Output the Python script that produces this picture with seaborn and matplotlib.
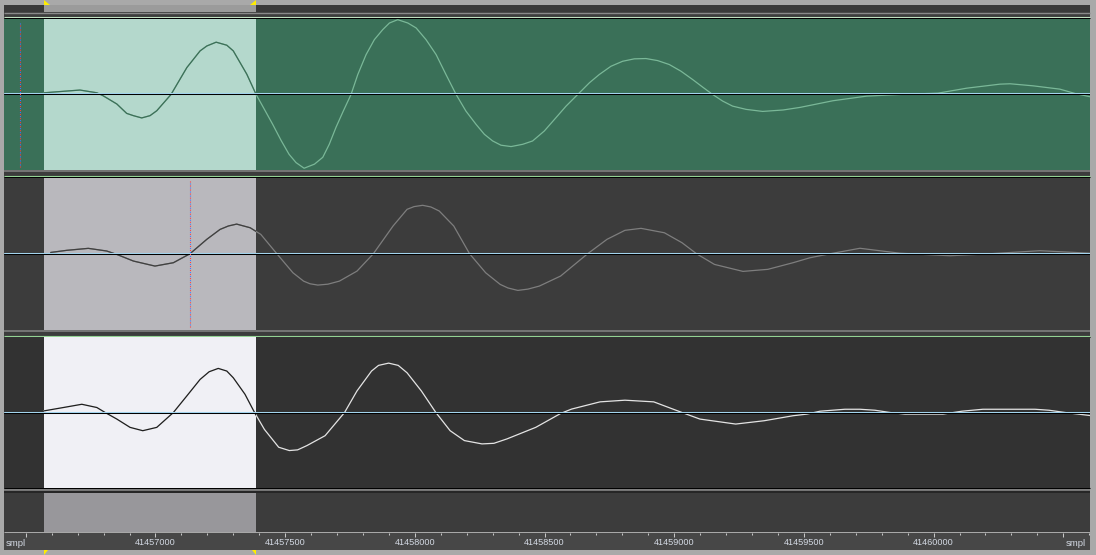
import numpy as np
import pandas as pd
import matplotlib
matplotlib.use("Agg")
import matplotlib.pyplot as plt
from matplotlib.patches import Rectangle, Polygon
import seaborn as sns

# sample positions (smpl) and amplitudes (% of full scale)
ch1_smpl = [41456571, 41456658, 41456709, 41456774, 41456798, 41456851, 41456889, 41456915,
            41456947, 41456979, 41457005, 41457060, 41457121, 41457172, 41457198, 41457234,
            41457275, 41457300, 41457352, 41457388, 41457420, 41457452, 41457484, 41457515,
            41457542, 41457573, 41457613, 41457645, 41457670, 41457696, 41457724, 41457754,
            41457780, 41457812, 41457844, 41457876, 41457902, 41457934, 41457973, 41458005,
            41458043, 41458082, 41458120, 41458159, 41458197, 41458236, 41458268, 41458300,
            41458332, 41458371, 41458416, 41458454, 41458499, 41458544, 41458583, 41458628,
            41458673, 41458711, 41458756, 41458801, 41458846, 41458891, 41458936, 41458981,
            41459026, 41459071, 41459110, 41459148, 41459187, 41459225, 41459277, 41459341,
            41459420, 41459485, 41459612, 41459742, 41459870, 41460017, 41460128, 41460256,
            41460295, 41460383, 41460487, 41460545, 41460603]
ch1_amp = [2.2, 4.5, 5.8, 2.2, -1.7, -12.6, -25, -28,
           -31, -28, -21.5, 0, 35.5, 57.5, 64, 69,
           65, 57.5, 26.8, 0, -19.7, -39.5, -60.5, -79,
           -90, -97.4, -92, -83, -65.8, -43.4, -22, 0,
           26.3, 52.6, 72.4, 85.5, 94.3, 98.7, 94.3, 87.8,
           72.4, 52.6, 26.3, 0, -22, -39.5, -52.6, -61.4,
           -67, -68.8, -65.8, -61.4, -48.3, -30.7, -15.4, 0,
           15.4, 26.3, 37.2, 43.8, 47, 47.4, 44.7, 39.5,
           30.7, 19.7, 9.6, 0, -8.8, -15.4, -19.7, -22.4,
           -20.5, -17.1, -8.3, -2.2, 0, 1.7, 8.3, 13.6,
           14.1, 11.4, 7, 1.3, -3]

ch2_smpl = [41456596, 41456658, 41456741, 41456812, 41456851, 41456915, 41456998, 41457069,
            41457133, 41457198, 41457249, 41457281, 41457313, 41457365, 41457406, 41457468,
            41457530, 41457571, 41457596, 41457626, 41457665, 41457709, 41457777, 41457840,
            41457916, 41457970, 41457997, 41458030, 41458062, 41458094, 41458150, 41458211,
            41458273, 41458329, 41458359, 41458397, 41458436, 41458480, 41458562, 41458666,
            41458741, 41458810, 41458872, 41458962, 41459030, 41459086, 41459155, 41459265,
            41459361, 41459458, 41459523, 41459601, 41459716, 41459870, 41460063, 41460217,
            41460410, 41460603]
ch2_amp = [1.7, 4.5, 7.1, 3.6, -0.9, -9.6, -16.2, -11.8,
           0, 19, 32, 36.5, 39, 34.2, 25.5, 0,
           -25, -36, -39.5, -41.2, -40, -36, -22.8, 0,
           36.5, 58.4, 62, 63.7, 61.5, 56.2, 36.5, 0,
           -25, -40.3, -45, -48.2, -46.5, -42.5, -29.3, 0,
           19, 30.8, 33.4, 27.6, 14.5, 0, -14, -23.2,
           -20.5, -11.8, -5.3, 0, 7.2, 0.7, -2.6, 0,
           4, 0.7]

ch3_smpl = [41456571, 41456645, 41456716, 41456774, 41456806, 41456851, 41456902, 41456951,
            41457005, 41457069, 41457121, 41457172, 41457207, 41457242, 41457275, 41457300,
            41457345, 41457382, 41457420, 41457475, 41457516, 41457548, 41457584, 41457654,
            41457729, 41457777, 41457833, 41457860, 41457899, 41457936, 41457970, 41458025,
            41458081, 41458136, 41458191, 41458259, 41458305, 41458355, 41458466, 41458562,
            41458604, 41458714, 41458810, 41458921, 41459030, 41459099, 41459237, 41459347,
            41459458, 41459512, 41459562, 41459658, 41459716, 41459774, 41459832, 41459890,
            41460036, 41460109, 41460190, 41460391, 41460445, 41460507, 41460557, 41460603]
ch3_amp = [2.2, 6.6, 10.9, 6.6, 0, -8.7, -19.7, -24.1,
           -19.7, 0, 22, 43.8, 54, 58.4, 54.9, 46,
           24.2, 0, -22.4, -46, -50.4, -49.5, -43.8, -30.7,
           0, 28.6, 54.9, 62.4, 65.4, 62.4, 52.6, 28.6,
           0, -24.1, -37.2, -41.6, -40.8, -35, -19.7, -1.3,
           4.5, 14.1, 16.3, 14.1, 0, -8.7, -15.3, -10.9,
           -4.3, -2.1, 1.7, 4.3, 4.3, 3, 0, -2.1,
           -2.1, 1.7, 4.3, 4.3, 3, 0, -2.1, -4]

view_start, view_end = 41456416, 41460603
sel_start, sel_end = 41456571, 41457388
cursor_ch1 = 41456479
cursor_ch2 = 41457134
major_ticks = [41456500, 41457000, 41457500, 41458000, 41458500, 41459000, 41459500, 41460000, 41460500]
tick_labels = ['', '41457000', '41457500', '41458000', '41458500', '41459000', '41459500', '41460000', '']
minor_ticks = list(range(41456500, 41460601, 100))
unit_label = 'smpl'

sns.set_theme(style="white")
plt.rcParams['font.family'] = ['Liberation Sans', 'DejaVu Sans']
plt.rcParams['lines.scale_dashes'] = False

W, H = 1096, 555
fig = plt.figure(figsize=(W / 100, H / 100), dpi=100, facecolor='#a9a9a9')


def box(x0, y0, x1, y1):
    return [x0 / W, 1 - y1 / H, (x1 - x0) / W, (y1 - y0) / H]


def bare(ax, bg):
    ax.set_facecolor(bg)
    ax.set_xticks([])
    ax.set_yticks([])
    for s in ax.spines.values():
        s.set_visible(False)
    ax.set_xlim(view_start, view_end)


# frame with separator lines, in pixel coordinates
base = fig.add_axes([0, 0, 1, 1], zorder=0)
base.set_xlim(0, W)
base.set_ylim(H, 0)
base.axis('off')
base.add_patch(Rectangle((4, 5), 1086, 545, color='#3c3c3c', lw=0))
seps = [(12.8, '#8a8a8a', 1.0), (17.2, '#cdeccd', 0.8), (18.2, '#000000', 0.8),
        (170.8, '#808080', 1.2), (176.2, '#9de09d', 0.8), (177.2, '#000000', 0.8),
        (330.8, '#808080', 1.2), (335.5, '#9de09d', 0.8), (336.5, '#000000', 0.8),
        (488.3, '#000000', 0.8), (489.8, '#8c8c8c', 1.2), (492.0, '#262626', 1.6),
        (532.2, '#a8a8a8', 0.8)]
for y, c, lw in seps:
    base.hlines(y, 4, 1090, color=c, lw=lw)
for pts in ([(44, 0), (44, 5), (50, 5)], [(256, 0), (256, 5), (250, 5)],
            [(44, 550), (44, 555), (48, 550)], [(256, 550), (256, 555), (252, 550)]):
    base.add_patch(Polygon(pts, closed=True, color='#ffee00', lw=0))

# top strip
top = fig.add_axes(box(4, 5, 1090, 12.3), zorder=1)
bare(top, '#3a3a3a')
top.axvspan(sel_start, sel_end, color='#9b9b9b', lw=0)

panels = [
    (ch1_smpl, ch1_amp, 18.7, 170.2, '#3a7058', '#b4d8cc', '#7ab898', '#3d6e58', cursor_ch1),
    (ch2_smpl, ch2_amp, 177.7, 329.8, '#3c3c3c', '#b9b8bd', '#7e7e7e', '#404040', cursor_ch2),
    (ch3_smpl, ch3_amp, 337.0, 488.0, '#323232', '#f0f0f5', '#e4e4e4', '#1e1e1e', None),
]

for smpl, amp, y0, y1, bg, sel, wave_out, wave_in, cur in panels:
    ax = fig.add_axes(box(4, y0, 1090, y1), zorder=2)
    bare(ax, bg)
    ax.set_ylim(-100, 100)
    span = ax.axvspan(sel_start, sel_end, color=sel, lw=0, zorder=0)
    df = pd.DataFrame({'smpl': smpl, 'amp': amp})
    sns.lineplot(data=df, x='smpl', y='amp', ax=ax, color=wave_out, lw=0.9,
                 estimator=None, sort=False, zorder=2)
    sns.lineplot(data=df, x='smpl', y='amp', ax=ax, color=wave_in, lw=0.9,
                 estimator=None, sort=False, zorder=2)
    ax.lines[-1].set_clip_path(span)
    ax.axhline(1.3, color='#a6d8f2', lw=0.75, zorder=3)
    ax.axhline(0, color='#000000', lw=0.75, zorder=3)
    if cur is not None:
        ax.axvline(cur, ymin=0.02, ymax=0.98, color='#ff3b3b', lw=0.8, ls=(0, (0.75, 2.15)), zorder=4)
        ax.axvline(cur, ymin=0.02, ymax=0.98, color='#3d7bff', lw=0.8, ls=(1.45, (0.75, 2.15)), zorder=4)
    ax.set_xlabel('')
    ax.set_ylabel('')

# bottom strip
bot = fig.add_axes(box(4, 493.3, 1090, 531.7), zorder=1)
bare(bot, '#3c3c3c')
bot.axvspan(sel_start, sel_end, color='#98979b', lw=0)

# time ruler
ruler = fig.add_axes(box(4, 532.7, 1090, 550), zorder=1)
ruler.set_facecolor('#474747')
for s in ruler.spines.values():
    s.set_visible(False)
ruler.set_xlim(view_start, view_end)
ruler.set_ylim(0, 1)
ruler.set_yticks([])
ruler.set_xticks(major_ticks)
ruler.set_xticklabels(tick_labels)
ruler.set_xticks(minor_ticks, minor=True)
ruler.tick_params(axis='x', which='both', direction='in', top=True, bottom=False,
                  labeltop=False, labelbottom=True, colors='#c8c8c8', width=0.75)
ruler.tick_params(axis='x', which='major', length=3.0, pad=-8.6, labelsize=6.6,
                  labelcolor='#d2d8e2')
ruler.tick_params(axis='x', which='minor', length=1.3)
ruler.text(0.002, 0.35, unit_label, transform=ruler.transAxes, ha='left', va='center',
           fontsize=6.8, color='#d2d8e2')
ruler.text(0.996, 0.35, unit_label, transform=ruler.transAxes, ha='right', va='center',
           fontsize=6.8, color='#d2d8e2')

fig.savefig('out.png', dpi=100, facecolor=fig.get_facecolor())
